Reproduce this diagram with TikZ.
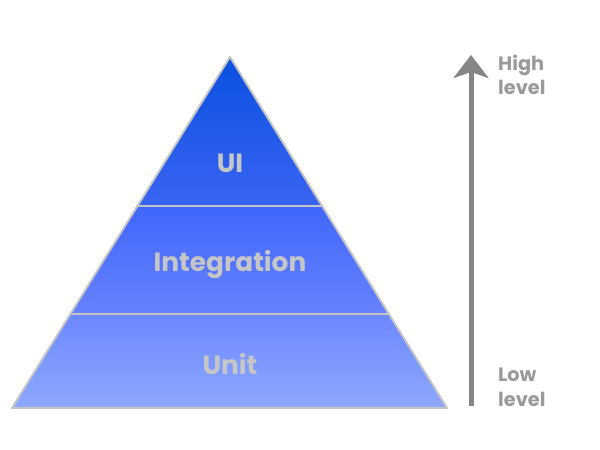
\documentclass[tikz,border=0pt]{standalone}
\usepackage{fontspec}
\setmainfont{Poppins}
\usetikzlibrary{arrows.meta,positioning,calc}

\definecolor{edgegray}{HTML}{C4C4C4}
\definecolor{labelgray}{HTML}{C6C6C6}
\definecolor{axisgray}{HTML}{858585}
\definecolor{sidegray}{HTML}{9A9A9A}

\begin{document}
\begin{tikzpicture}[
    layer/.style={draw=edgegray, line width=1.1pt, line join=round},
    tier/.style={font=\bfseries\fontsize{15}{17}\selectfont, text=labelgray},
    side/.style={font=\bfseries\fontsize{11}{13}\selectfont, text=sidegray, align=left, anchor=west},
    axis/.style={-{Stealth[length=0.46cm, width=0.7cm, inset=0.12cm]}, line width=0.1cm, draw=axisgray}
]
\useasboundingbox (0,0) rectangle (12,9);

% Pyramid corners
\coordinate (apex) at (4.6,7.86);
\coordinate (bl) at (0.24,0.84);
\coordinate (br) at (8.94,0.84);
\coordinate (ml1) at ($(apex)!0.4245!(bl)$);
\coordinate (mr1) at ($(apex)!0.4245!(br)$);
\coordinate (ml2) at ($(apex)!0.7322!(bl)$);
\coordinate (mr2) at ($(apex)!0.7322!(br)$);

% Layers
\path[layer, top color={rgb,255:red,10;green,80;blue,224}, bottom color={rgb,255:red,58;green,100;blue,242}]
    (apex) -- (mr1) -- (ml1) -- cycle;
\path[layer, top color={rgb,255:red,64;green,102;blue,250}, bottom color={rgb,255:red,102;green,130;blue,255}]
    (ml1) -- (mr1) -- (mr2) -- (ml2) -- cycle;
\path[layer, top color={rgb,255:red,108;green,136;blue,255}, bottom color={rgb,255:red,142;green,168;blue,255}]
    (ml2) -- (mr2) -- (br) -- (bl) -- cycle;

% Layer names
\node[tier] (ui) at (4.6,5.74) {UI};
\node[tier] (integration) at (4.6,3.7) {Integration};
\node[tier] (unit) at (4.6,1.72) {Unit};

% Level axis
\coordinate (low) at (9.42,0.88);
\coordinate (high) at (9.42,7.9);
\draw[axis] (low) -- (high);

\node[side] (highlbl) at (9.84,7.5) {High\\[1pt]level};
\node[side] (lowlbl) at (9.84,1.26) {Low\\[1pt]level};

\end{tikzpicture}
\end{document}
